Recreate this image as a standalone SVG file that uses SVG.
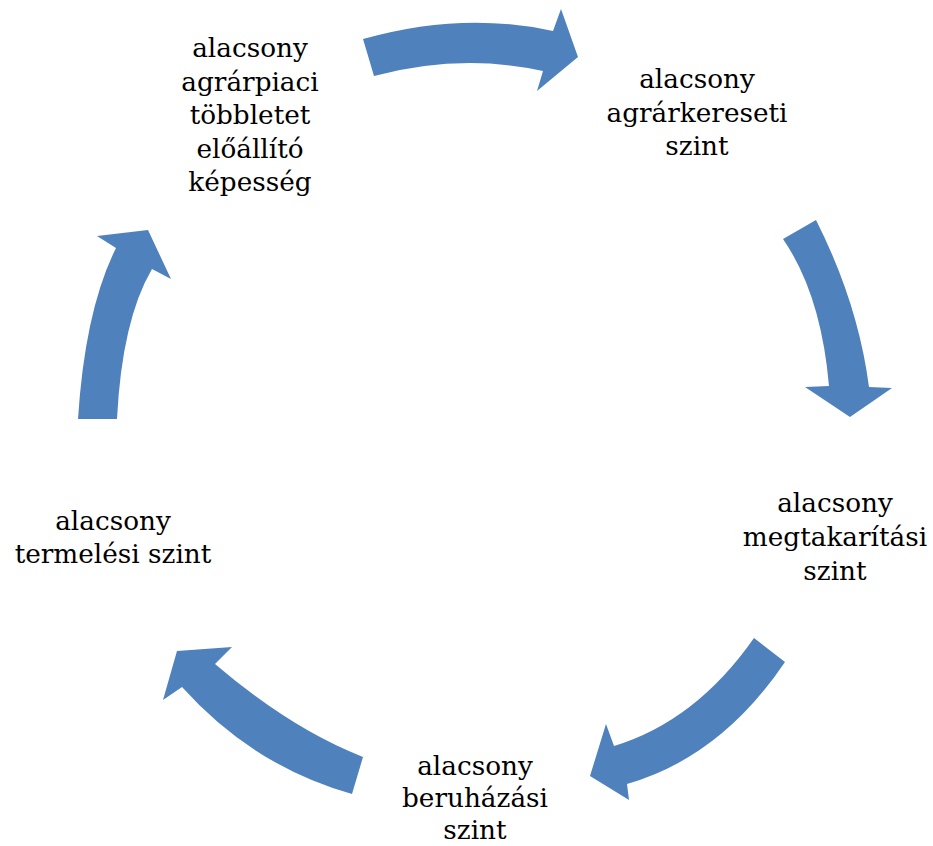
<svg xmlns="http://www.w3.org/2000/svg" width="933" height="846" viewBox="0 0 933 846">
<style>
.t{font-family:"DejaVu Serif","Liberation Serif",serif;font-size:26.3px;fill:#000;text-anchor:middle}
.a{fill:#4F81BD;stroke:none}
</style>
<rect width="933" height="846" fill="#fff"/>
<g id="connectors">
<path class="a" d="M363,39 Q462,11 553,31 L561,9 L578,57 L537,91 L543,71 Q461,53 374,76 Z"/>
<path class="a" d="M816,220 Q858,303 869,387 L892,388 L850,417 L805,387 L829,386 Q821,294 783,239 Z"/>
<path class="a" d="M785,662 Q721,757 627,784 L629,800 L590,776 L606,724 L614,746 Q696,721 754,638 Z"/>
<path class="a" d="M363,757 Q291,729 215,664 L232,647 L177,651 L163,700 L182,687 Q253,766 352,794 Z"/>
<path class="a" d="M117,419 Q122,320 152,269 L171,279 L148,230 L97,236 L116,248 Q85,310 78,419 Z"/>
</g>
<g id="node1"><text class="t"><tspan x="250" y="57">alacsony</tspan><tspan x="250" y="90.5">agrárpiaci</tspan><tspan x="250" y="124">többletet</tspan><tspan x="250" y="157.5">előállító</tspan><tspan x="250" y="191">képesség</tspan></text></g>
<g id="node2"><text class="t"><tspan x="697" y="88">alacsony</tspan><tspan x="697" y="121.5">agrárkereseti</tspan><tspan x="697" y="155">szint</tspan></text></g>
<g id="node3"><text class="t"><tspan x="835" y="512">alacsony</tspan><tspan x="835" y="546">megtakarítási</tspan><tspan x="835" y="580">szint</tspan></text></g>
<g id="node4"><text class="t"><tspan x="475" y="775">alacsony</tspan><tspan x="475" y="807">beruházási</tspan><tspan x="475" y="839">szint</tspan></text></g>
<g id="node5"><text class="t"><tspan x="113" y="530">alacsony</tspan><tspan x="113" y="563">termelési szint</tspan></text></g>
</svg>
